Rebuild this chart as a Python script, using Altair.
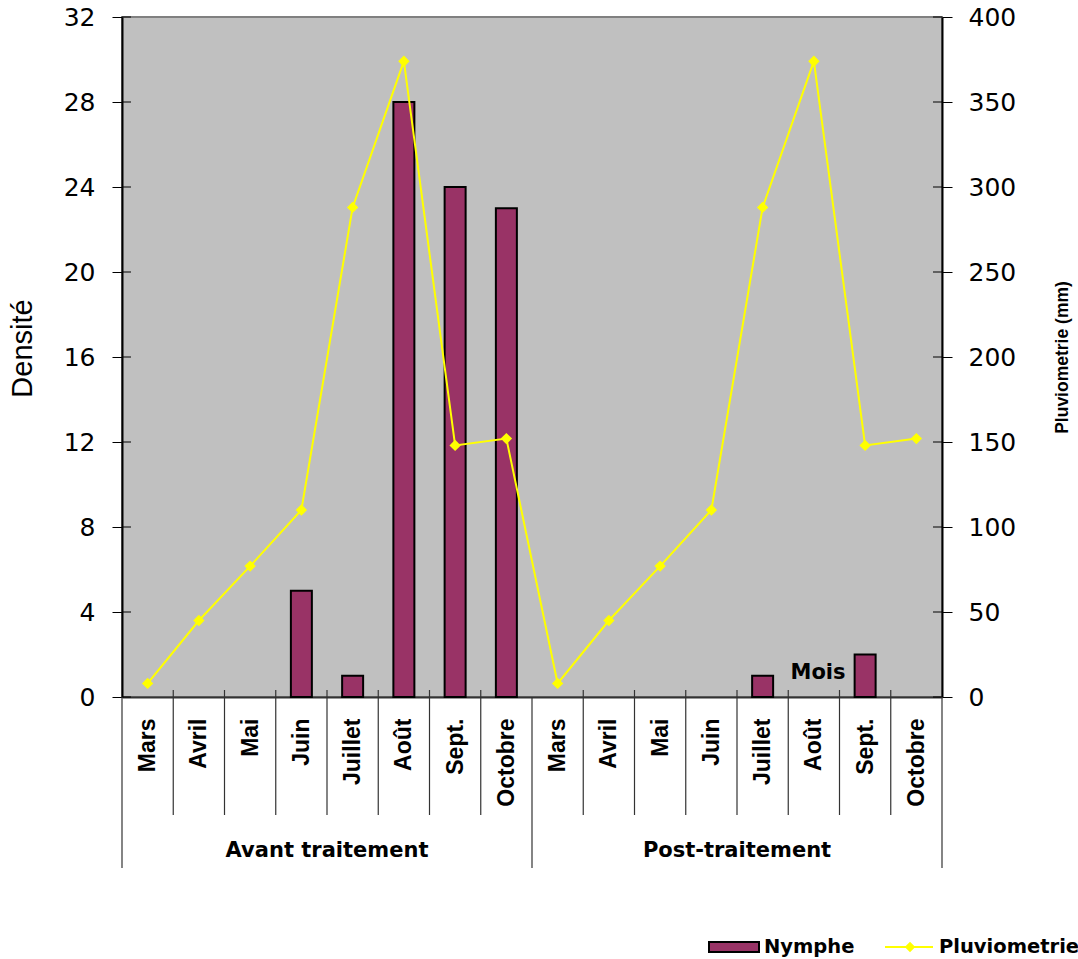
import altair as alt
import pandas as pd

# Monthly sampling, two campaigns of eight months each
months = ["Mars", "Avril", "Mai", "Juin", "Juillet", "Août", "Sept.", "Octobre"]
groups = ["Avant traitement", "Post-traitement"]

nymphe_avant = [0, 0, 0, 5, 1, 28, 24, 23]
nymphe_post = [0, 0, 0, 0, 1, 0, 2, 0]

pluvio_avant = [8, 45, 77, 110, 288, 374, 148, 152]
pluvio_post = [8, 45, 77, 110, 288, 374, 148, 152]

dens_ticks = [0, 4, 8, 12, 16, 20, 24, 28, 32]
pluvio_ticks = [0, 50, 100, 150, 200, 250, 300, 350, 400]

FONT = "Liberation Sans"
WIDE = "DejaVu Sans"
W, H = 820, 680
n = len(months) * len(groups)

rows = []
for g, (nym, plu) in enumerate([(nymphe_avant, pluvio_avant), (nymphe_post, pluvio_post)]):
    for i, m in enumerate(months):
        rows.append({"pos": g * len(months) + i + 0.5, "mois": m, "groupe": groups[g],
                     "Nymphe": nym[i], "Pluviometrie": plu[i]})
df = pd.DataFrame(rows)

xscale = alt.Scale(domain=[0, n], nice=False, zero=False, padding=0)
yleft = alt.Scale(domain=[0, 32], nice=False)
yright = alt.Scale(domain=[0, 400], nice=False)

label_expr = "[" + ",".join("'%s'" % m for m in months * 2) + "][floor(datum.value)]"

x_axis = alt.Axis(values=[r["pos"] for r in rows], labelExpr=label_expr, labelAngle=-90,
                  labelAlign="right", labelBaseline="middle", labelPadding=21,
                  labelFont=FONT, labelFontSize=23, labelFontWeight="bold", labelColor="black",
                  ticks=False, domainColor="#333333", domainWidth=2, grid=False, title=None)

bars = alt.Chart(df).transform_filter("datum.Nymphe > 0").mark_bar(
    width=21, fill="#993366", stroke="black", strokeWidth=2).encode(
    x=alt.X("pos:Q", scale=xscale, axis=x_axis),
    y=alt.Y("Nymphe:Q", scale=yleft, axis=alt.Axis(
        values=dens_ticks, title="Densité", titleFont=FONT, titleFontSize=29,
        titleFontWeight="normal", titleColor="black", titleX=-100, titleY=331,
        titleAngle=-90, titleAlign="center", titleBaseline="middle",
        labelFont=WIDE, labelFontSize=25, labelColor="black", labelPadding=17,
        tickSize=10, tickColor="black", tickWidth=1, domainColor="black", domainWidth=2,
        grid=False)),
)

line = alt.Chart(df).mark_line(color="#FFFF00", strokeWidth=2,
                               point=alt.OverlayMarkDef(shape="diamond", filled=True,
                                                        color="#FFFF00", size=130, opacity=1)).encode(
    x=alt.X("pos:Q", scale=xscale),
    y=alt.Y("Pluviometrie:Q", scale=yright, axis=alt.Axis(
        orient="right", values=pluvio_ticks, title="Pluviometrie (mm)",
        titleFont=FONT, titleFontSize=17.5, titleFontWeight="bold", titleColor="black",
        titleX=120, titleY=H / 2, titleAngle=-90, titleAlign="center", titleBaseline="middle",
        labelFont=WIDE, labelFontSize=25, labelColor="black", labelPadding=16,
        tickSize=10, tickColor="black", tickWidth=1, domainColor="black", domainWidth=2,
        grid=False)),
)

# inner halves of the crossing ticks on both value axes
tick_df = pd.DataFrame({"t": dens_ticks})
inner_left = alt.Chart(tick_df).mark_rule(color="black", strokeWidth=1).encode(
    y=alt.Y("t:Q", scale=yleft, axis=None), x=alt.value(0), x2=alt.value(9))
inner_right = alt.Chart(tick_df).mark_rule(color="black", strokeWidth=1).encode(
    y=alt.Y("t:Q", scale=yleft, axis=None), x=alt.value(W - 9), x2=alt.value(W))

# category separators below the axis; longer ones bound the two campaigns
sep_df = pd.DataFrame({"b": list(range(n + 1))})
sep_df["long"] = sep_df["b"] % len(months) == 0
short_sep = alt.Chart(sep_df).transform_filter("!datum.long").mark_rule(
    color="#333333", strokeWidth=1.2).encode(
    x=alt.X("b:Q", scale=xscale), y=alt.value(H - 7), y2=alt.value(H + 118))
long_sep = alt.Chart(sep_df).transform_filter("datum.long").mark_rule(
    color="#333333", strokeWidth=1.2).encode(
    x=alt.X("b:Q", scale=xscale), y=alt.value(H), y2=alt.value(H + 171))

grp_df = pd.DataFrame({"groupe": groups, "c": [len(months) / 2, len(months) * 1.5]})
grp_text = alt.Chart(grp_df).mark_text(font=WIDE, fontSize=21, fontWeight="bold",
                                       color="black", baseline="middle").encode(
    x=alt.X("c:Q", scale=xscale), y=alt.value(H + 154), text="groupe:N")

mois_text = alt.Chart(pd.DataFrame({"t": ["Mois"]})).mark_text(
    font=WIDE, fontSize=21, fontWeight="bold", color="black", align="center",
    baseline="middle").encode(x=alt.value(696), y=alt.value(H - 24), text="t:N")

# legend drawn beneath the chart
leg_y = H + 250
leg_box = alt.Chart(pd.DataFrame({"k": [1]})).mark_rect(
    fill="#993366", stroke="black", strokeWidth=2).encode(
    x=alt.value(587), x2=alt.value(637), y=alt.value(leg_y - 5), y2=alt.value(leg_y + 5))
leg_line = alt.Chart(pd.DataFrame({"k": [1]})).mark_rule(color="#FFFF00", strokeWidth=2).encode(
    x=alt.value(763), x2=alt.value(811), y=alt.value(leg_y))
leg_pt = alt.Chart(pd.DataFrame({"k": [1]})).mark_point(
    shape="diamond", filled=True, color="#FFFF00", size=110, opacity=1).encode(
    x=alt.value(788), y=alt.value(leg_y))
leg_txt = alt.Chart(pd.DataFrame({"t": ["Nymphe", "Pluviometrie"], "x": [642, 817]})).mark_text(
    font=WIDE, fontSize=19.5, fontWeight="bold", color="black", align="left",
    baseline="middle").encode(x=alt.X("x:Q", scale=None), y=alt.value(leg_y), text="t:N")

chart = alt.layer(
    bars, line, inner_left, inner_right, short_sep, long_sep, grp_text, mois_text,
    leg_box, leg_line, leg_pt, leg_txt,
).resolve_scale(y="independent").properties(
    width=W, height=H,
    autosize=alt.AutoSizeParams(type="none"),
    padding={"left": 122, "top": 17, "right": 136, "bottom": 262},
    background="white",
).configure_view(fill="#C0C0C0", stroke="#808080", strokeWidth=2)

chart.save("out.html", embed_options={"renderer": "svg", "actions": False})
